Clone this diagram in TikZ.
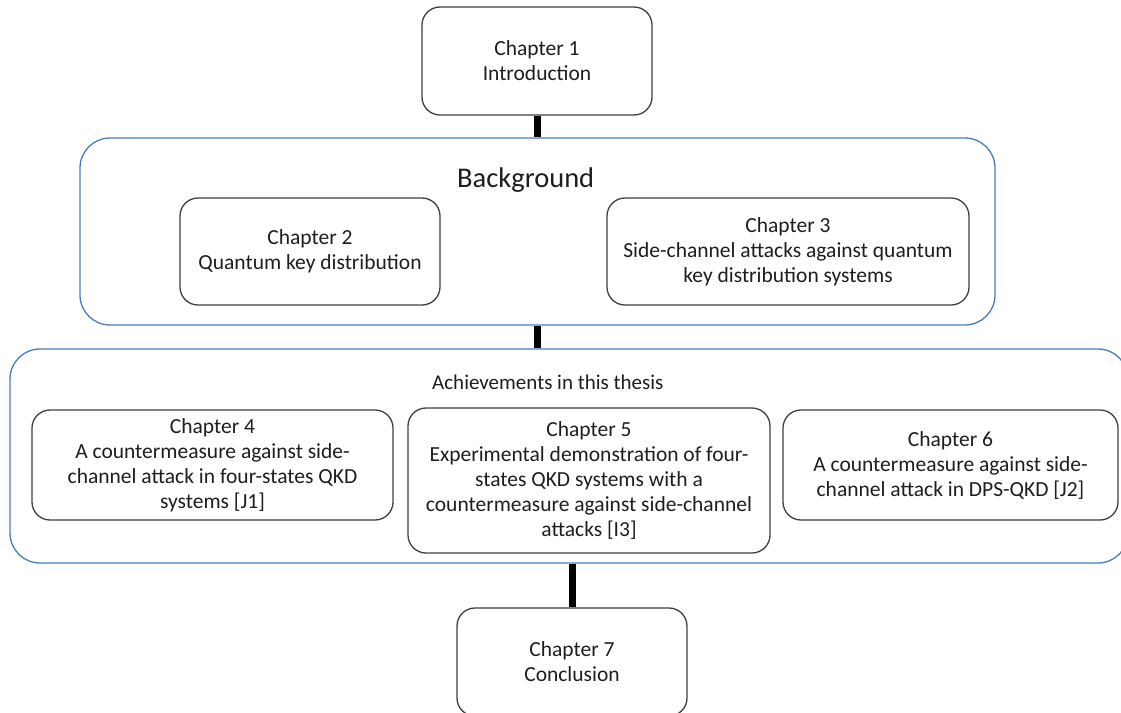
\documentclass[tikz,border=0pt]{standalone}
\usepackage{fontspec}
\setmainfont{Carlito}
\definecolor{outerblue}{RGB}{74,126,187}
\definecolor{boxgray}{RGB}{64,64,64}
\definecolor{txt}{RGB}{30,30,30}
\begin{document}
\begin{tikzpicture}[x=1pt,y=-1pt,
  chapbox/.style={draw=boxgray, line width=1.3pt, rounded corners=18pt, fill=white,
    inner sep=0pt, align=center, text=txt, font=\fontsize{21.5}{25}\selectfont},
  groupbox/.style={draw=outerblue, line width=1.3pt, rounded corners=30pt, fill=white, inner sep=0pt},
  grouptitle/.style={text=txt, inner sep=0pt, anchor=west},
  link/.style={line width=7pt, black}
]
\useasboundingbox (0,0) rectangle (1121,712);
\clip (0,0) rectangle (1121,712);
\fill[white] (0,0) rectangle (1121,712);

% group boxes
\node[groupbox, minimum width=915pt, minimum height=187pt] (bg) at (537.5,231.5) {};
\node[groupbox, minimum width=1118pt, minimum height=214pt] (ach) at (569,456) {};

% chapter boxes
\node[chapbox, minimum width=230pt, minimum height=108pt] (ch1) at (537,61) {Chapter 1\\Introduction};
\node[chapbox, minimum width=260pt, minimum height=107pt] (ch2) at (310,251.5) {Chapter 2\\Quantum key distribution};
\node[chapbox, minimum width=362pt, minimum height=107pt] (ch3) at (788,251.5) {Chapter 3\\Side-channel attacks against quantum\\key distribution systems};
\node[chapbox, minimum width=361pt, minimum height=110pt] (ch4) at (212.5,465) {Chapter 4\\A countermeasure against side-\\channel attack in four-states QKD\\systems [J1]};
\node[chapbox, minimum width=362pt, minimum height=145pt] (ch5) at (589,480.5) {Chapter 5\\Experimental demonstration of four-\\states QKD systems with a\\countermeasure against side-channel\\attacks [I3]};
\node[chapbox, minimum width=335pt, minimum height=110pt] (ch6) at (950.5,465) {Chapter 6\\A countermeasure against side-\\channel attack in DPS-QKD [J2]};
\node[chapbox, minimum width=230pt, minimum height=108pt] (ch7) at (572,662) {Chapter 7\\Conclusion};

% group titles
\node[grouptitle, font=\fontsize{28.5}{32}\selectfont] (bgtitle) at (457,180) {Background};
\node[grouptitle, font=\fontsize{21}{25}\selectfont] (achtitle) at (432,382) {Achievements in this thesis};

% connectors
\draw[link] (ch1.south) -- (bg.north -| ch1.south);
\draw[link] (bg.south -| ch1.south) -- (ach.north -| ch1.south);
\draw[link] (ach.south -| ch7.north) -- (ch7.north);
\end{tikzpicture}
\end{document}
